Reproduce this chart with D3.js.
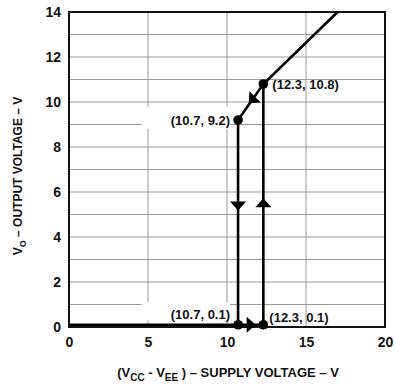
<!DOCTYPE html>
<html>
<head>
<meta charset="utf-8">
<script src="https://cdn.jsdelivr.net/npm/d3@7"></script>
<style>
  body { margin: 0; background: #fff; }
  text { font-family: "Liberation Sans", Arial, sans-serif; font-weight: bold; fill: #111; }
</style>
</head>
<body>
<div id="chart"></div>
<script>
const W = 395, H = 388;
const margin = {top: 12, right: 10, bottom: 61, left: 69};

// axis ticks
const xTicks = [0, 5, 10, 15, 20];
const yTicks = [0, 2, 4, 6, 8, 10, 12, 14];

// hysteresis path pieces (supply V, output V)
const lowLine = [[0, 0.1], [12.3, 0.1]];
const riseLine = [[12.3, 0.1], [12.3, 10.8]];
const fallLine = [[10.7, 9.2], [10.7, 0.1]];
const slopeLine = [[10.7, 9.2], [12.3, 10.8], [17, 14]];

// marked points and their labels
const points = [[10.7, 9.2], [12.3, 10.8], [10.7, 0.1], [12.3, 0.1]];
const labels = ["(10.7, 9.2)", "(12.3, 10.8)", "(10.7, 0.1)", "(12.3, 0.1)"];

// arrow heads: position + direction
const arrowPos = [[10.7, 5.4], [12.3, 5.5], [11.5, 0.1], [11.6, 10.1]];
const arrowDir = [90, -90, 0, 135]; // degrees, 0 = right, 90 = down (screen)

const svg = d3.select("#chart").append("svg").attr("width", W).attr("height", H);

const x = d3.scaleLinear().domain([0, 20]).range([margin.left, W - margin.right]);
const y = d3.scaleLinear().domain([0, 14]).range([H - margin.bottom, margin.top]);

// grid
const g = svg.append("g");
g.selectAll(".hg").data(d3.range(1, 14)).enter().append("line")
  .attr("x1", x(0)).attr("x2", x(20))
  .attr("y1", d => y(d)).attr("y2", d => y(d))
  .attr("stroke", "#9a9a9a").attr("stroke-width", 1);
g.selectAll(".vg").data([5, 10, 15]).enter().append("line")
  .attr("y1", y(0)).attr("y2", y(14))
  .attr("x1", d => x(d)).attr("x2", d => x(d))
  .attr("stroke", "#9a9a9a").attr("stroke-width", 1);

// white boxes behind left labels (they cut the grid)
svg.append("rect").attr("x", x(4.6)).attr("y", y(9.8)).attr("width", x(10.2) - x(4.6)).attr("height", y(8.8) - y(9.8)).attr("fill", "#fff");
svg.append("rect").attr("x", x(4.6)).attr("y", y(1.1)).attr("width", x(10.2) - x(4.6)).attr("height", y(0.3) - y(1.1)).attr("fill", "#fff");

// frame
svg.append("rect").attr("x", x(0)).attr("y", y(14))
  .attr("width", x(20) - x(0)).attr("height", y(0) - y(14))
  .attr("fill", "none").attr("stroke", "#111").attr("stroke-width", 2);

// axes (labels only)
const xAxis = svg.append("g").attr("transform", `translate(0,${y(0)})`)
  .call(d3.axisBottom(x).tickValues(xTicks).tickSize(0).tickPadding(8));
const yAxis = svg.append("g").attr("transform", `translate(${x(0)},0)`)
  .call(d3.axisLeft(y).tickValues(yTicks).tickSize(0).tickPadding(8));
[xAxis, yAxis].forEach(a => {
  a.select(".domain").remove();
  a.selectAll("text").attr("font-size", 14).style("font-family", null);
});
xAxis.selectAll("text").attr("dy", "0.85em");

// data lines
const line = d3.line().x(d => x(d[0])).y(d => y(d[1]));
[lowLine, riseLine, fallLine, slopeLine].forEach(p => {
  svg.append("path").attr("d", line(p)).attr("fill", "none")
    .attr("stroke", "#000").attr("stroke-width", 2.6);
});

// arrow heads
svg.selectAll(".arrow").data(arrowPos).enter().append("path")
  .attr("d", "M5,0 L-4,-8 L-4,8 Z")
  .attr("fill", "#000")
  .attr("transform", (d, i) => `translate(${x(d[0])},${y(d[1])}) rotate(${arrowDir[i]})`);

// dots
svg.selectAll(".pt").data(points).enter().append("circle")
  .attr("cx", d => x(d[0])).attr("cy", d => y(d[1])).attr("r", 4.8).attr("fill", "#000");

// point labels
const lab = [
  {dx: -8, dy: 5, anchor: "end"},
  {dx: 9, dy: 5, anchor: "start"},
  {dx: -8, dy: -6, anchor: "end"},
  {dx: 6, dy: -3, anchor: "start"}
];
svg.selectAll(".lbl").data(points).enter().append("text")
  .attr("x", (d, i) => x(d[0]) + lab[i].dx)
  .attr("y", (d, i) => y(d[1]) + lab[i].dy)
  .attr("text-anchor", (d, i) => lab[i].anchor)
  .attr("font-size", 13)
  .text((d, i) => labels[i]);

// axis titles
const xt = svg.append("text").attr("x", 228).attr("y", 377).attr("text-anchor", "middle").attr("font-size", 13);
xt.append("tspan").text("(V");
xt.append("tspan").text("CC").attr("font-size", 10).attr("dy", 4);
xt.append("tspan").text(" - V").attr("dy", -4);
xt.append("tspan").text("EE").attr("font-size", 10).attr("dy", 4);
xt.append("tspan").text(" ) \u2013 SUPPLY VOLTAGE \u2013 V").attr("dy", -4);

const yt = svg.append("text").attr("transform", "translate(22,176) rotate(-90)")
  .attr("text-anchor", "middle").attr("font-size", 12);
yt.append("tspan").text("V");
yt.append("tspan").text("O").attr("font-size", 9).attr("dy", 4);
yt.append("tspan").text(" \u2013 OUTPUT VOLTAGE \u2013 V").attr("dy", -4);
</script>
</body>
</html>
